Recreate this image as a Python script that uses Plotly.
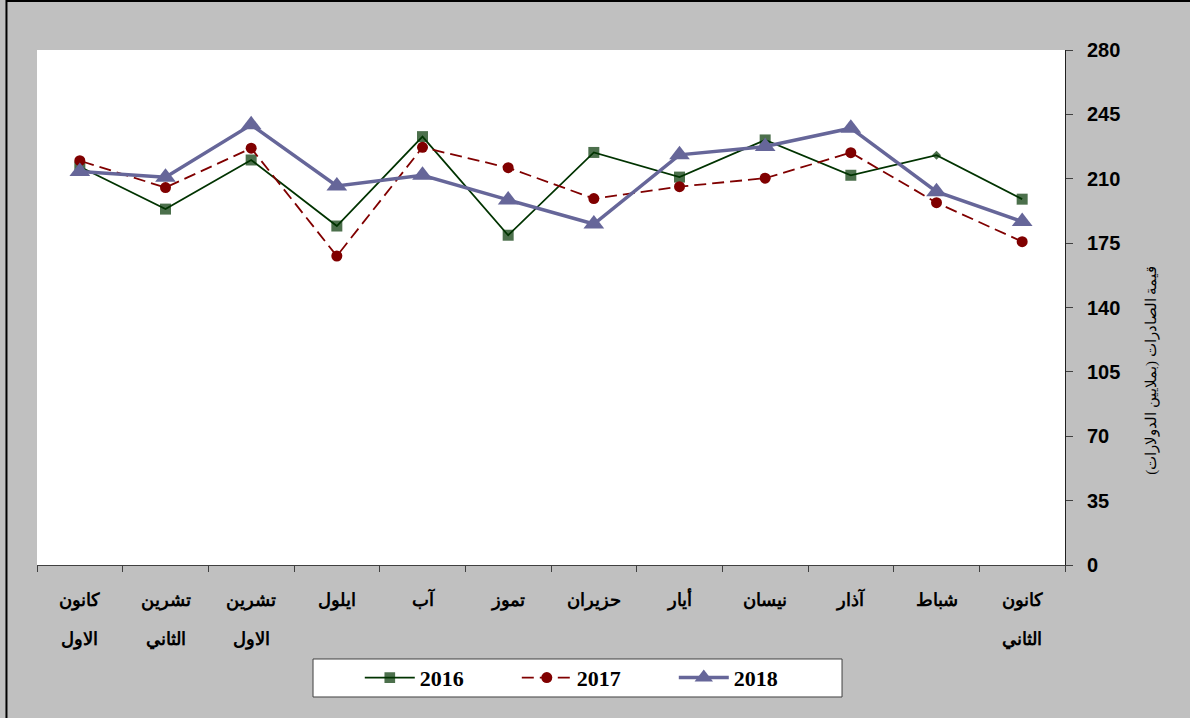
import plotly.graph_objects as go

# Months in calendar order (axis is reversed so January sits on the right)
months = ["كانون الثاني", "شباط", "آذار", "نيسان", "أيار", "حزيران",
          "تموز", "آب", "ايلول", "تشرين الاول", "تشرين الثاني", "كانون الاول"]
label_line1 = ["كانون", "شباط", "آذار", "نيسان", "أيار", "حزيران",
               "تموز", "آب", "ايلول", "تشرين", "تشرين", "كانون"]
label_line2 = ["الثاني", "", "", "", "", "", "", "", "", "الاول", "الثاني", "الاول"]

v2016 = [198.9, 222.8, 211.9, 231.1, 210.9, 224.3, 179.3, 232.9, 184.3, 220.2, 193.5, 216.5]
v2017 = [175.8, 197.0, 224.2, 210.3, 205.7, 199.2, 216.0, 227.1, 168.0, 226.6, 205.2, 219.8]
v2018 = [186.7, 203.0, 237.5, 227.5, 223.0, 185.4, 198.5, 211.9, 206.1, 239.3, 210.8, 213.9]

y_ticks = [0, 35, 70, 105, 140, 175, 210, 245, 280]
y_title = "قيمة الصادرات (بملايين الدولارات)"

serif = "Times New Roman, Liberation Serif, DejaVu Serif, serif"

fig = go.Figure()
sym2016 = ["square"] * 12
sym2016[1] = "diamond"
size2016 = [11] * 12
size2016[1] = 7
fig.add_trace(go.Scatter(x=months, y=v2016, name="2016", mode="lines+markers",
                         line=dict(color="#003300", width=1.8),
                         marker=dict(symbol=sym2016, size=size2016, color="#003300",
                                     line=dict(width=0))))
fig.add_trace(go.Scatter(x=months, y=v2017, name="2017", mode="lines+markers",
                         line=dict(color="#800000", width=1.8, dash="12px,6px"),
                         marker=dict(symbol="circle", size=11, color="#800000",
                                     line=dict(width=0))))
fig.add_trace(go.Scatter(x=months, y=v2018, name="2018", mode="lines+markers",
                         line=dict(color="#666699", width=3.5),
                         marker=dict(symbol="triangle-up", size=18, color="#666699",
                                     line=dict(width=0))))

annotations = []
for m, t in zip(months, label_line2):
    if t:
        annotations.append(dict(x=m, xref="x", y=-0.1456, yref="paper", text=t,
                                showarrow=False, yanchor="middle",
                                font=dict(family=serif, size=18, color="black", weight="bold")))
annotations.append(dict(x=1.0846, xref="paper", y=0.379, yref="paper", text=y_title,
                        textangle=-90, showarrow=False, xanchor="center", yanchor="middle",
                        font=dict(family=serif, size=15, color="black")))

fig.update_layout(
    width=1190, height=718,
    margin=dict(l=37, r=125, t=50, b=153),
    paper_bgcolor="#c0c0c0",
    plot_bgcolor="white",
    showlegend=True,
    legend=dict(orientation="h", x=0.314, xanchor="left", y=-0.219, yanchor="middle",
                bgcolor="rgba(0,0,0,0)", entrywidth=92, entrywidthmode="pixels",
                font=dict(family=serif, size=22, color="black", weight="bold"),
                itemwidth=50),
    xaxis=dict(categoryorder="array", categoryarray=months, range=[11.5, -0.5],
               tickmode="array", tickvals=months, ticktext=label_line1, tickangle=0,
               tickson="boundaries", ticks="outside", ticklen=6, tickcolor="#404040",
               showline=True, linecolor="#404040", linewidth=1, showgrid=False,
               ticklabelstandoff=18,
               tickfont=dict(family=serif, size=18, color="black", weight="bold")),
    yaxis=dict(side="right", range=[0, 280], tickvals=y_ticks, ticks="outside", ticklen=7,
               tickcolor="#404040", showline=True, linecolor="#202020", linewidth=1,
               showgrid=False, zeroline=False, ticklabelstandoff=10,
               tickfont=dict(family="Arial, Liberation Sans, sans-serif", size=20,
                             color="black", weight="bold")),
    annotations=annotations,
    shapes=[
        dict(type="rect", xref="paper", yref="paper", x0=0.2685, x1=0.7831,
             y0=-0.2563, y1=-0.1825, fillcolor="white",
             line=dict(color="#404040", width=1), layer="below"),
        dict(type="rect", xref="paper", yref="paper", x0=-0.0297, x1=1.2,
             y0=-0.4, y1=1.0951, fillcolor="rgba(0,0,0,0)",
             line=dict(color="black", width=2), layer="above"),
    ],
)

fig.write_html("out.html", config={"displayModeBar": False},
               post_script="document.body.style.margin='0';document.body.style.overflow='hidden';")
